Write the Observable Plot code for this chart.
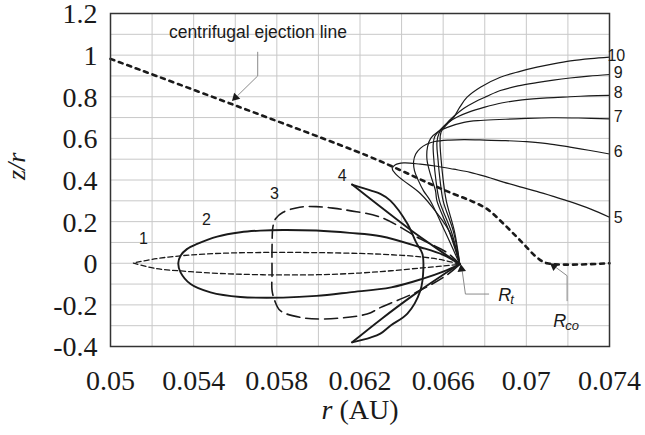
<!DOCTYPE html>
<html><head><meta charset="utf-8">
<script src="https://cdn.jsdelivr.net/npm/d3@7"></script>
<script src="https://cdn.jsdelivr.net/npm/@observablehq/plot@0.6"></script>
<style>body{margin:0;background:#fff}</style>
</head><body><div id="chart"></div>
<script>
// ---- ticks / grid ----
const xTicks = [0.05, 0.054, 0.058, 0.062, 0.066, 0.07, 0.074];
const yTicks = [-0.4, -0.2, 0, 0.2, 0.4, 0.6, 0.8, 1, 1.2];
const xGrid = [0.052, 0.054, 0.056, 0.058, 0.06, 0.062, 0.064, 0.066, 0.068, 0.07, 0.072];
const yGrid = [-0.3, -0.2, -0.1, 0, 0.1, 0.2, 0.3, 0.4, 0.5, 0.6, 0.7, 0.8, 0.9, 1.0, 1.1];

// ---- curves (r in AU, z/r) ----
const curve1Upper = [[0.0668,-0.005],[0.0660,0.015],[0.0650,0.03],[0.0635,0.041],[0.062,0.047],[0.060,0.051],[0.058,0.052],[0.056,0.05],[0.0545,0.044],[0.0534,0.036],[0.0522,0.022],[0.0511,0.001]];
const curve1Lower = [[0.0511,0.001],[0.0522,-0.026],[0.0534,-0.037],[0.0545,-0.045],[0.056,-0.052],[0.058,-0.056],[0.060,-0.055],[0.062,-0.047],[0.0635,-0.036],[0.065,-0.022],[0.066,-0.013],[0.0668,-0.005]];
const curve2 = [[0.0668,-0.005],[0.066,0.04],[0.0649,0.077],[0.063,0.13],[0.0615,0.146],[0.0599,0.157],[0.0583,0.16],[0.0572,0.157],[0.05625,0.149],[0.05513,0.128],[0.05417,0.093],[0.05369,0.069],[0.05337,0.036],[0.05326,0],[0.05337,-0.044],[0.05385,-0.1],[0.05481,-0.14],[0.05625,-0.162],[0.0583,-0.165],[0.0599,-0.157],[0.0615,-0.14],[0.0635,-0.116],[0.065,-0.075],[0.066,-0.04],[0.0668,-0.005]];
const curve3 = [[0.0668,-0.005],[0.0662,0.05],[0.0649,0.117],[0.063,0.221],[0.0615,0.253],[0.0607,0.265],[0.0599,0.272],[0.0591,0.269],[0.0583,0.245],[0.05795,0.215],[0.05782,0.18],[0.05777,0.077],[0.05777,-0.05],[0.05777,-0.13],[0.0579,-0.18],[0.05817,-0.228],[0.05913,-0.26],[0.06026,-0.268],[0.06234,-0.244],[0.063,-0.212],[0.0649,-0.13],[0.0662,-0.055],[0.0668,-0.005]];
const curve4Upper = [[0.0668,-0.005],[0.066,0.05],[0.0645,0.155],[0.063,0.27],[0.06162,0.378]];
const curve4Arc = [[0.06162,0.378],[0.0625,0.35],[0.06298,0.333],[0.06346,0.301],[0.06428,0.19],[0.0647,0.1],[0.065,0.046],[0.06505,-0.02],[0.0649,-0.132],[0.06428,-0.242],[0.06346,-0.3],[0.06298,-0.338],[0.0625,-0.357],[0.06162,-0.38]];
const curve4Lower = [[0.06162,-0.38],[0.063,-0.27],[0.0645,-0.158],[0.066,-0.055],[0.0668,-0.005]];
const curve5 = [[0.0668,-0.005],[0.06635,0.142],[0.06572,0.238],[0.0649,0.335],[0.06409,0.397],[0.0637,0.431],[0.06355,0.455],[0.0637,0.473],[0.0641,0.482],[0.0649,0.476],[0.0657,0.466],[0.0665,0.452],[0.0673,0.437],[0.0681,0.415],[0.0689,0.39],[0.0697,0.367],[0.0705,0.345],[0.0713,0.321],[0.0721,0.296],[0.0731,0.26],[0.074,0.221]];
const curve6 = [[0.0668,-0.005],[0.0661,0.15],[0.06538,0.3],[0.06505,0.349],[0.06481,0.397],[0.06462,0.445],[0.06458,0.49],[0.06468,0.525],[0.0649,0.552],[0.0652,0.572],[0.0656,0.585],[0.0663,0.592],[0.067,0.594],[0.068,0.592],[0.069,0.589],[0.070,0.584],[0.071,0.575],[0.0721,0.558],[0.073,0.543],[0.074,0.525]];
const curve7 = [[0.0668,-0.005],[0.0663,0.15],[0.0657,0.3],[0.06563,0.349],[0.06538,0.429],[0.06522,0.5],[0.06525,0.56],[0.0654,0.6],[0.06575,0.632],[0.0662,0.653],[0.067,0.677],[0.0678,0.686],[0.069,0.692],[0.070,0.696],[0.0712,0.699],[0.0725,0.698],[0.074,0.694]];
const curve8 = [[0.0668,-0.005],[0.0664,0.15],[0.06582,0.3],[0.06565,0.4],[0.06555,0.5],[0.06552,0.57],[0.0656,0.61],[0.0659,0.645],[0.0663,0.68],[0.0667,0.704],[0.0672,0.725],[0.068,0.75],[0.0688,0.77],[0.0698,0.785],[0.071,0.795],[0.0721,0.8],[0.073,0.804],[0.074,0.807]];
const curve9 = [[0.0668,-0.005],[0.0665,0.15],[0.066,0.3],[0.06585,0.4],[0.06575,0.5],[0.0657,0.58],[0.0658,0.625],[0.0661,0.665],[0.0665,0.705],[0.067,0.745],[0.0675,0.774],[0.0681,0.802],[0.06875,0.83],[0.0696,0.852],[0.0705,0.868],[0.0713,0.88],[0.0721,0.89],[0.073,0.899],[0.074,0.907]];
const curve10 = [[0.0668,-0.005],[0.06655,0.15],[0.06615,0.3],[0.066,0.4],[0.0659,0.5],[0.06585,0.58],[0.0659,0.63],[0.0662,0.67],[0.0665,0.7],[0.0668,0.75],[0.06715,0.798],[0.06779,0.846],[0.06875,0.894],[0.0697,0.922],[0.07051,0.942],[0.0713,0.958],[0.07212,0.972],[0.0731,0.983],[0.074,0.99]];
const ejectionLine = [[0.05,0.982],[0.05601,0.758],[0.06234,0.517],[0.0641,0.44],[0.06538,0.381],[0.0665,0.333],[0.06731,0.301],[0.06811,0.261],[0.06891,0.189],[0.06971,0.109],[0.07051,0.028],[0.0710,0],[0.074,0]];

// ---- labels ----
const curveLabels = ["1","2","3","4","5","6","7","8","9","10"];
const curveLabelX = [0.05159,0.05462,0.05788,0.06115,0.07442,0.07442,0.07442,0.07442,0.07442,0.07433];
const curveLabelY = [0.118,0.21,0.335,0.421,0.219,0.537,0.705,0.82,0.914,0.998];
const ejectionText = "centrifugal ejection line";
const ejectionTextPos = [0.05709, 1.109];
const radiusLabels = [{main:"R", sub:"t", x:0.06865, y:-0.18}, {main:"R", sub:"co", x:0.0713, y:-0.308}];
const leaderEjection = [[0.05708,1.014],[0.05708,0.9],[0.05612,0.806]];
const leaderRt = [[0.06819,-0.148],[0.06707,-0.148],[0.06692,-0.04]];
const leaderRco = [[0.07196,-0.18],[0.07196,-0.06],[0.07145,-0.022]];
const arrowHeads = [{x:0.05601,y:0.796,rot:225},{x:0.06688,y:-0.028,rot:353},{x:0.07133,y:-0.014,rot:307}];

const sans = "'Liberation Sans', Arial, sans-serif";
const serif = "'Liberation Serif', 'Times New Roman', serif";
const ink = "#1a1a1a";

function rows(segs) {
  const out = [];
  segs.forEach((pts, k) => pts.forEach(([x, y]) => out.push({x, y, seg: k})));
  return out;
}
const thinSolid = rows([curve5, curve6, curve7, curve8, curve9, curve10]);
const thickSolid = rows([curve2, curve4Upper, curve4Arc, curve4Lower]);
const shortDash = rows([curve1Upper, curve1Lower]);
const longDash = rows([curve3]);
const leaders = rows([leaderEjection, leaderRt, leaderRco]);
const labelRows = curveLabels.map((t, i) => ({t, x: curveLabelX[i], y: curveLabelY[i]}));

const chart = Plot.plot({
  width: 645, height: 435,
  marginLeft: 110, marginRight: 36, marginTop: 13, marginBottom: 89,
  x: {domain: [0.05, 0.074]},
  y: {domain: [-0.4, 1.2]},
  style: {background: "#fff", fontFamily: serif, color: ink},
  marks: [
    Plot.gridX({ticks: xGrid, stroke: "#c8c8c8", strokeOpacity: 1, strokeWidth: 1}),
    Plot.gridY({ticks: yGrid, stroke: "#c8c8c8", strokeOpacity: 1, strokeWidth: 1}),
    Plot.axisX({ticks: xTicks, tickSize: 0, tickPadding: 24, fontSize: 28, fontFamily: serif, tickFormat: d => String(d), label: null}),
    Plot.axisY({ticks: yTicks, tickSize: 0, tickPadding: 13, fontSize: 28, fontFamily: serif, tickFormat: d => String(+d.toFixed(1)), label: null, dy: 1}),
    Plot.line(shortDash, {x: "x", y: "y", z: "seg", curve: "catmull-rom", stroke: ink, strokeWidth: 1.3, strokeDasharray: "5,3"}),
    Plot.line(longDash, {x: "x", y: "y", z: "seg", curve: "catmull-rom", stroke: ink, strokeWidth: 1.6, strokeDasharray: "13,6"}),
    Plot.line(thickSolid, {x: "x", y: "y", z: "seg", curve: "catmull-rom", stroke: ink, strokeWidth: 1.9}),
    Plot.line(thinSolid, {x: "x", y: "y", z: "seg", curve: "catmull-rom", stroke: ink, strokeWidth: 1.2}),
    Plot.line(ejectionLine, {x: d => d[0], y: d => d[1], curve: "catmull-rom", stroke: ink, strokeWidth: 2.6, strokeDasharray: "4,5"}),
    Plot.line(leaders, {x: "x", y: "y", z: "seg", stroke: "#8a8a8a", strokeWidth: 1}),
    Plot.dot(arrowHeads, {x: "x", y: "y", rotate: "rot", symbol: "triangle", r: 3.2, fill: ink, stroke: "none"}),
    Plot.frame({stroke: "#333", strokeWidth: 1.5}),
    Plot.text(labelRows, {x: "x", y: "y", text: "t", fontFamily: sans, fontSize: 16, fill: ink, textAnchor: d => (+d.t >= 5 ? "start" : "middle")}),
    Plot.text([ejectionText], {x: () => ejectionTextPos[0], y: () => ejectionTextPos[1], text: d => d, fontFamily: sans, fontSize: 17.5, fill: ink}),
    Plot.text(radiusLabels, {x: "x", y: "y", text: "main", fontFamily: sans, fontStyle: "italic", fontSize: 18, fill: ink, textAnchor: "start", lineAnchor: "bottom"}),
    Plot.text(radiusLabels, {x: "x", y: "y", text: "sub", fontFamily: sans, fontStyle: "italic", fontSize: 13, fill: ink, textAnchor: "start", lineAnchor: "bottom", dx: 12, dy: 3}),
    Plot.text(["z/r"], {frameAnchor: "left", dx: -94, rotate: -90, text: d => d, fontFamily: serif, fontStyle: "italic", fontSize: 26, fill: ink, lineAnchor: "middle"}),
    Plot.text(["r"], {frameAnchor: "bottom", dx: -38.5, dy: 64, text: d => d, fontFamily: serif, fontStyle: "italic", fontSize: 28, fill: ink, textAnchor: "start", lineAnchor: "middle"}),
    Plot.text(["(AU)"], {frameAnchor: "bottom", dx: -20.5, dy: 64, text: d => d, fontFamily: serif, fontSize: 28, fill: ink, textAnchor: "start", lineAnchor: "middle"})
  ]
});
document.getElementById("chart").appendChild(chart);
</script>
</body></html>
